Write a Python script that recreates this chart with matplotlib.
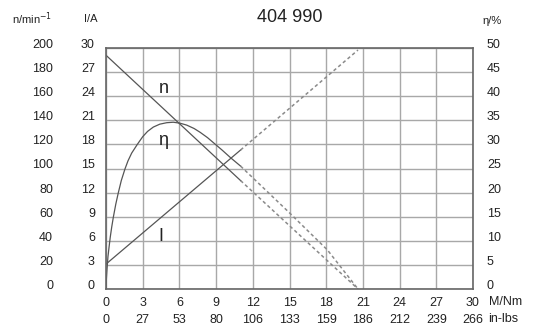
import numpy as np
import matplotlib.pyplot as plt

plt.rcParams['font.family'] = ['Liberation Sans', 'DejaVu Sans']

# axis ticks
torque_ticks = [0, 3, 6, 9, 12, 15, 18, 21, 24, 27, 30]
inlbs_labels = ['0', '27', '53', '80', '106', '133', '159', '186', '212', '239', '266']
current_ticks = [0, 3, 6, 9, 12, 15, 18, 21, 24, 27, 30]
speed_labels = ['0', '20', '40', '60', '80', '100', '120', '140', '160', '180', '200']
eff_labels = ['0', '5', '10', '15', '20', '25', '30', '35', '40', '45', '50']

# current I/A vs M/Nm
cur_m_solid = [0, 11]
cur_solid = [3.1, 17.3]
cur_m_dash = [11, 20.6]
cur_dash = [17.3, 29.75]

# speed n/min-1 vs M/Nm
spd_m_solid = [0, 11]
spd_solid = [194, 90]
spd_m_dash = [11, 20.6]
spd_dash = [90, 0]

# efficiency eta/% vs M/Nm
eff_m_solid = [0, 0.03, 0.08, 0.16, 0.25, 0.35, 0.47, 0.6, 0.8, 1.0, 1.25, 1.55, 1.8,
               2.1, 2.56, 3.0, 3.4, 3.87, 4.4, 4.96, 5.5, 6.05, 6.6, 7.2, 7.7, 8.3,
               8.9, 9.5, 10.2, 11.0]
eff_solid = [0, 2.0, 4.0, 6.7, 8.7, 10.8, 12.9, 14.9, 17.6, 19.9, 22.5, 24.9, 26.6,
             28.2, 30.0, 31.6, 32.7, 33.6, 34.2, 34.5, 34.6, 34.4, 34.0, 33.3, 32.5, 31.4,
             30.1, 28.8, 27.2, 25.5]
eff_m_dash = [11.0, 15.0, 18.1, 20.6]
eff_dash = [25.5, 15.8, 8.1, 0]

fig = plt.figure(figsize=(5.35, 3.29), dpi=100)
ax = fig.add_axes([106/535, 1 - 289/329, 367/535, 241/329])

line_col = '#555555'
dash_col = '#8a8a8a'
n_to_i = 30 / 200
e_to_i = 30 / 50

ax.plot(cur_m_solid, cur_solid, color=line_col, lw=0.9)
ax.plot(cur_m_dash, cur_dash, color=dash_col, lw=1.1, dashes=(2.2, 1.8))
ax.plot(spd_m_solid, np.array(spd_solid) * n_to_i, color=line_col, lw=0.9)
ax.plot(spd_m_dash, np.array(spd_dash) * n_to_i, color=dash_col, lw=1.1, dashes=(2.2, 1.8))
ax.plot(eff_m_solid, np.array(eff_solid) * e_to_i, color=line_col, lw=0.9)
ax.plot(eff_m_dash, np.array(eff_dash) * e_to_i, color=dash_col, lw=1.1, dashes=(2.2, 1.8))

ax.set_xlim(0, 30)
ax.set_ylim(0, 30)
ax.set_xticks(torque_ticks)
ax.set_yticks(current_ticks)
ax.grid(True, color='#a8a8a8', lw=1.0)
for s in ax.spines.values():
    s.set_color('#666666')
    s.set_linewidth(1.2)
ax.tick_params(length=0, labelsize=9, colors='#222222')
ax.tick_params(axis='y', pad=8)
ax.tick_params(axis='x', pad=6)
for lab in ax.get_yticklabels():
    lab.set_va('baseline')

sec_n = ax.secondary_yaxis(-53/367)
sec_n.set_yticks(current_ticks, speed_labels)
sec_n.spines['left'].set_visible(False)
sec_n.tick_params(length=0, labelsize=9, pad=0, colors='#222222')
for lab in sec_n.get_yticklabels():
    lab.set_va('baseline')

sec_e = ax.secondary_yaxis('right')
sec_e.set_yticks(current_ticks, eff_labels)
sec_e.spines['right'].set_visible(False)
sec_e.tick_params(length=0, labelsize=9, pad=10, colors='#222222')
for lab in sec_e.get_yticklabels():
    lab.set_va('baseline')

sec_x = ax.secondary_xaxis(-19/241)
sec_x.set_xticks(torque_ticks, inlbs_labels)
sec_x.spines['bottom'].set_visible(False)
sec_x.tick_params(length=0, labelsize=9, pad=4, colors='#222222')

fig.text(290/535, 1 - 17/329, '404 990', ha='center', va='center', fontsize=13, color='#222222')
fig.text(12/535, 1 - 19/329, 'n/min$^{-1}$', ha='left', va='center', fontsize=8, color='#222222')
fig.text(84/535, 1 - 19/329, 'I/A', ha='left', va='center', fontsize=8, color='#222222')
fig.text(482/535, 1 - 21/329, 'η/%', ha='left', va='center', fontsize=8, color='#222222')
fig.text(489/535, 1 - 302/329, 'M/Nm', ha='left', va='center', fontsize=9, color='#222222')
fig.text(488/535, 1 - 319/329, 'in-lbs', ha='left', va='center', fontsize=9, color='#222222')

ax.text(4.7, 25, 'n', fontsize=13, color='#222222', ha='center', va='center')
ax.text(4.7, 18.5, 'η', fontsize=13, color='#222222', ha='center', va='center')
ax.text(4.5, 6.5, 'I', fontsize=13, color='#222222', ha='center', va='center')

fig.savefig('out.png', dpi=100)
